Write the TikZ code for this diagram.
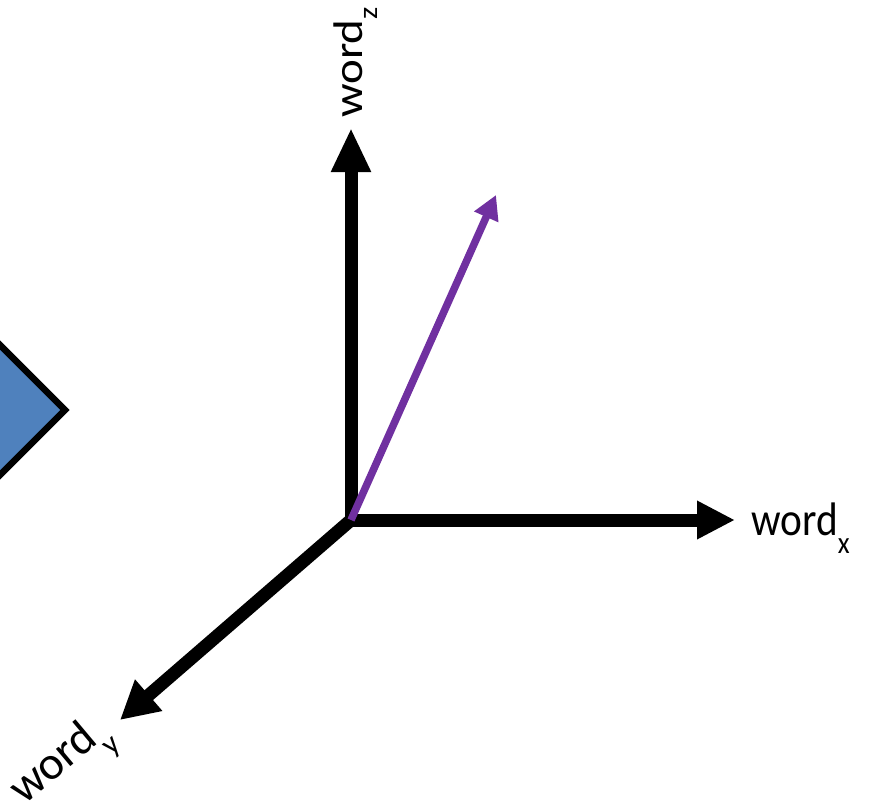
\documentclass[tikz,border=0pt]{standalone}
\usepackage{fontspec}
\setmainfont{Carlito}
\usetikzlibrary{arrows.meta}
\definecolor{diamondblue}{HTML}{4F81BD}
\definecolor{vecpurple}{HTML}{7030A0}
% axis name with a lowered index
\newcommand\axislabel[1]{word\raisebox{-18pt}{\fontsize{31}{31}\selectfont #1}}
\begin{document}
\begin{tikzpicture}[x=1pt,y=-1pt,
  axis/.style={line width=13pt, line cap=rect},
  vector/.style={draw=vecpurple, line width=7.5pt, -{Triangle[length=24pt,width=25pt]}},
  axisname/.style={inner sep=0pt, anchor=base west, font=\fontsize{47}{47}\selectfont}]
\useasboundingbox (0,0) rectangle (876,806);

% blue diamond, cut by the left edge
\begin{scope}
  \clip (0,0) rectangle (876,806);
  \draw[fill=diamondblue, line width=6.5pt, line join=miter]
    (-9,336) -- (65,410) -- (-9,484) -- (-83,410) -- cycle;
\end{scope}

% axes
\coordinate (O)  at (351,520);
\coordinate (zT) at (351,128);
\coordinate (xT) at (735,520);
\coordinate (yT) at (120,720);
\coordinate (vT) at (496,195);

\draw[axis, -{Triangle[length=44pt,width=37pt]}] (O) -- (zT);
\draw[axis, -{Triangle[length=38pt,width=36pt]}] (O) -- (xT);
\draw[axis, -{Triangle[length=38pt,width=39pt]}] (O) -- (yT);

% word vector
\draw[vector] (O) -- (vT);

% axis names
\node[axisname] (lx) at (751,535) {\scalebox{0.88}[1]{\axislabel{x}}};
\node[axisname, rotate=90] (lz) at (362,118) {\scalebox{1}[0.88]{\axislabel{z}}};
\node[axisname, rotate=40] (ly) at (24,806) {\axislabel{y}};
\end{tikzpicture}
\end{document}
